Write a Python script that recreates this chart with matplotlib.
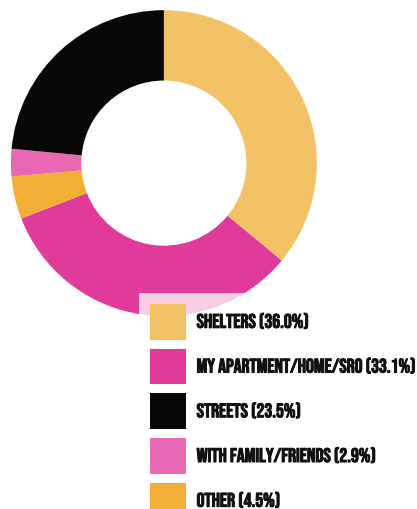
import matplotlib.pyplot as plt
import matplotlib.patheffects as pe
from matplotlib.patches import Patch

labels = ["SHELTERS", "MY APARTMENT/HOME/SRO", "OTHER", "WITH FAMILY/FRIENDS", "STREETS"]
values = [36.0, 33.1, 4.5, 2.9, 23.5]
colors = ["#F3C166", "#E03A9B", "#F1B035", "#E968B3", "#070707"]
legend_order = [0, 1, 4, 3, 2]

fig = plt.figure(figsize=(4.17, 5.09), dpi=100)
ax = fig.add_axes([0.026, 0.379, 0.734, 0.601])
ax.pie(values, colors=colors, startangle=90, counterclock=False,
       wedgeprops=dict(width=0.46, linewidth=0))
ax.set_xlim(-1, 1)
ax.set_ylim(-1, 1)
ax.set_aspect('equal')
ax.axis('off')

fs = 14.2
handles = [Patch(facecolor=colors[i], edgecolor='none') for i in legend_order]
texts = ["%s (%.1f%%)" % (labels[i], values[i]) for i in legend_order]
leg = fig.legend(handles, texts, loc='upper left', bbox_to_anchor=(139/417, 1-293/509),
                 frameon=True, fancybox=False, borderaxespad=0,
                 prop=dict(family='Bebas Neue', size=fs),
                 handlelength=1.82, handleheight=2.42, labelspacing=0.45,
                 handletextpad=0.55, borderpad=0.55)
leg.get_frame().set_facecolor('white')
leg.get_frame().set_alpha(0.75)
leg.get_frame().set_edgecolor('none')
for t in leg.get_texts():
    t.set_color('#111111')
    t.set_path_effects([pe.withStroke(linewidth=0.7, foreground='#111111')])

fig.savefig("out.png", dpi=100)
